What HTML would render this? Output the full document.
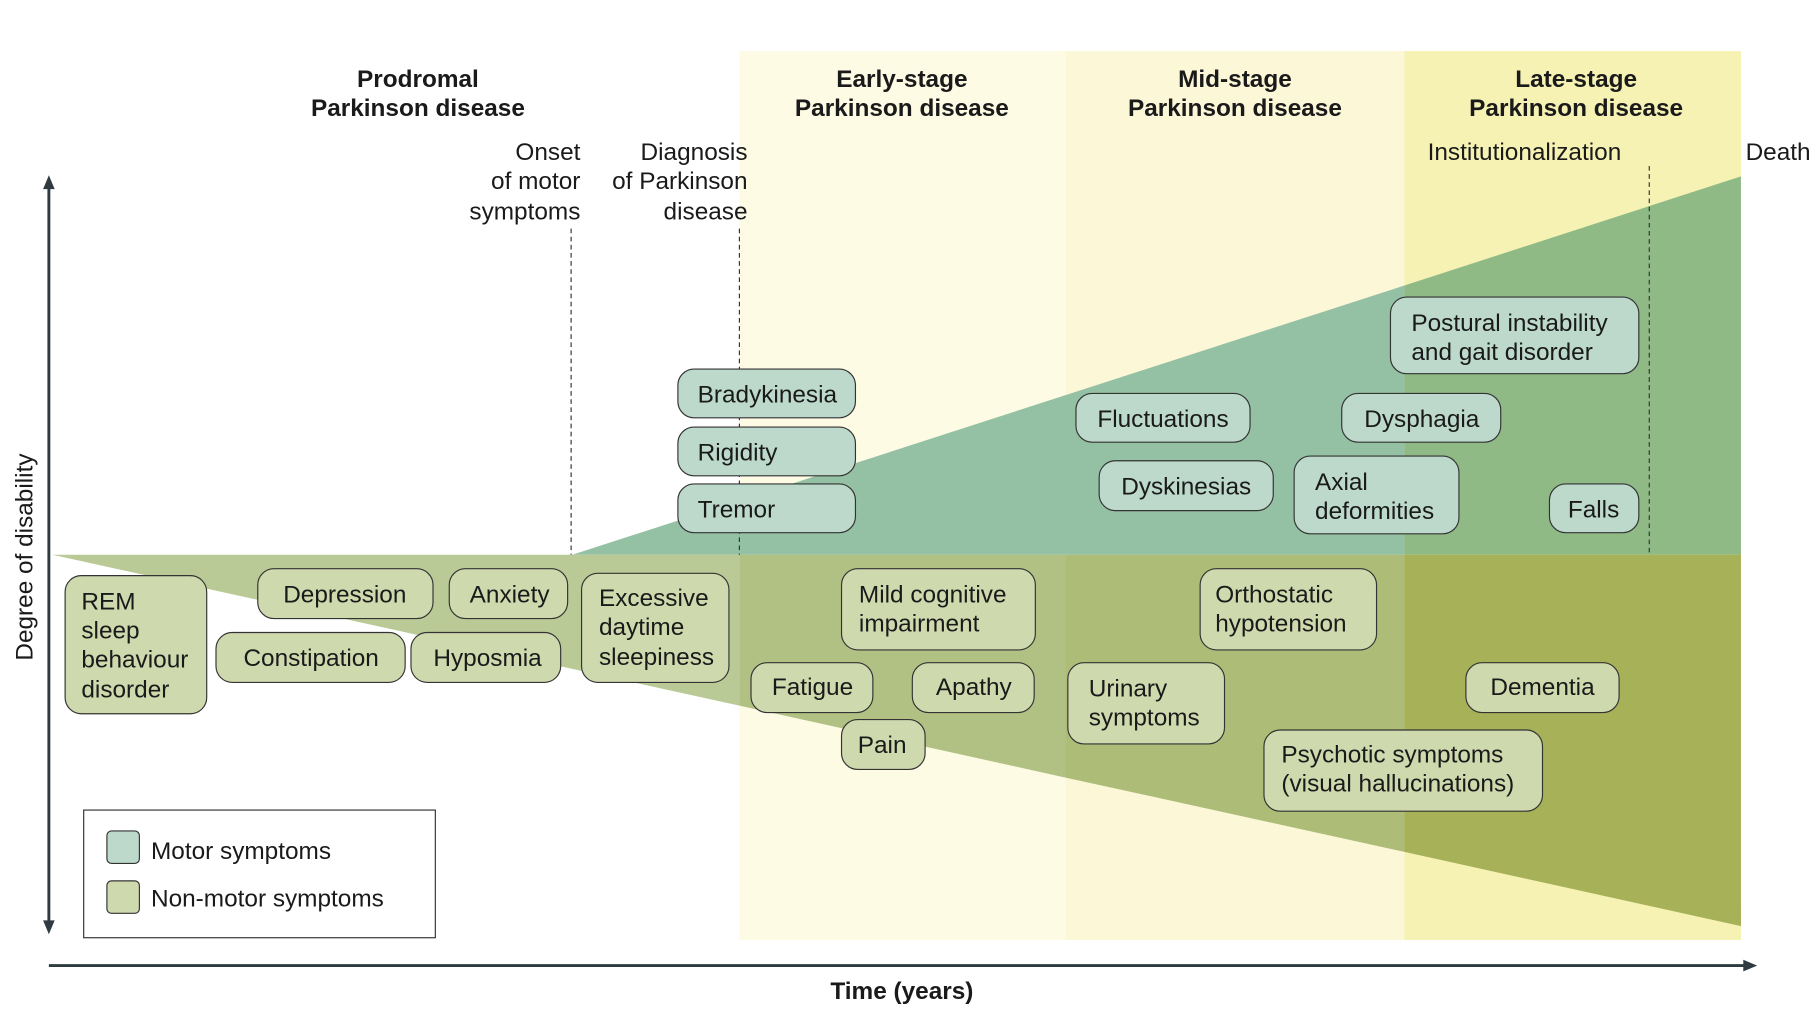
<!DOCTYPE html>
<html><head><meta charset="utf-8"><style>
html,body{margin:0;padding:0;background:#fff}
svg{display:block}
text{font-family:"Liberation Sans",sans-serif;fill:#1a1a1a}
.b{font-weight:bold}
</style></head><body>
<svg width="1820" height="1012" viewBox="0 0 1568 872" xmlns="http://www.w3.org/2000/svg">
<rect width="1568" height="872" fill="#fff"/>
<rect x="637" y="44" width="281" height="766" fill="#fdfbe4"/>
<rect x="918" y="44" width="292" height="766" fill="#fbf7d7"/>
<rect x="1210" y="44" width="290" height="766" fill="#f5f2b4"/>
<!-- motor -->
<polygon points="493,478 1210,246 1210,478" fill="#94c0a3"/>
<polygon points="1210,246 1500,152 1500,478 1210,478" fill="#8fba86"/>
<!-- nonmotor -->
<polygon points="45,478 637,478 637,608 " fill="#b9ca96"/>
<polygon points="637,478 918,478 918,670 637,608" fill="#b1c184"/>
<polygon points="918,478 1210,478 1210,734 918,670" fill="#adbd78"/>
<polygon points="1210,478 1500,478 1500,798 1210,734" fill="#a6b158"/>
<!-- dashed -->
<g stroke="#333" stroke-width="1" stroke-dasharray="4,3">
<line x1="492" y1="197" x2="492" y2="478"/>
<line x1="637" y1="197" x2="637" y2="478"/>
<line x1="1421" y1="143" x2="1421" y2="478"/>
</g>
<!-- axes -->
<g stroke="#2f3b40" stroke-width="2.5" fill="#2f3b40">
<line x1="42" y1="160" x2="42" y2="796"/>
<polygon points="42,151 37,163 47,163" stroke="none"/>
<polygon points="42,805 37,793 47,793" stroke="none"/>
<line x1="42" y1="832" x2="1505" y2="832"/>
<polygon points="1514,832 1502,827 1502,837" stroke="none"/>
</g>
<text x="28" y="480" font-size="21" text-anchor="middle" transform="rotate(-90 28 480)">Degree of disability</text>
<text x="777" y="861" font-size="21" class="b" text-anchor="middle">Time (years)</text>
<!-- headers -->
<g font-size="21" class="b" text-anchor="middle">
<text x="360" y="75" class="b">Prodromal</text><text x="360" y="100" class="b">Parkinson disease</text>
<text x="777" y="75" class="b">Early-stage</text><text x="777" y="100" class="b">Parkinson disease</text>
<text x="1064" y="75" class="b">Mid-stage</text><text x="1064" y="100" class="b">Parkinson disease</text>
<text x="1358" y="75" class="b">Late-stage</text><text x="1358" y="100" class="b">Parkinson disease</text>
</g>
<g font-size="21" text-anchor="end">
<text x="500" y="138">Onset</text><text x="500" y="163">of motor</text><text x="500" y="189">symptoms</text>
<text x="644" y="138">Diagnosis</text><text x="644" y="163">of Parkinson</text><text x="644" y="189">disease</text>
</g>
<text x="1230" y="138" font-size="21">Institutionalization</text>
<text x="1504" y="138" font-size="21">Death</text>
<!-- motor boxes -->
<g fill="#bcd9cc" stroke="#333" stroke-width="1">
<rect x="584" y="318" width="153" height="42" rx="14"/>
<rect x="584" y="368" width="153" height="42" rx="14"/>
<rect x="584" y="417" width="153" height="42" rx="14"/>
<rect x="927" y="339" width="150" height="42" rx="14"/>
<rect x="947" y="397" width="150" height="43" rx="14"/>
<rect x="1198" y="256" width="214" height="66" rx="14"/>
<rect x="1156" y="339" width="137" height="42" rx="14"/>
<rect x="1115" y="393" width="142" height="67" rx="14"/>
<rect x="1335" y="417" width="77" height="42" rx="14"/>
</g>
<g fill="#cfd9ae" stroke="#333" stroke-width="1">
<rect x="56" y="496" width="122" height="119" rx="14"/>
<rect x="222" y="490" width="151" height="43" rx="14"/>
<rect x="387" y="490" width="102" height="43" rx="14"/>
<rect x="186" y="545" width="163" height="43" rx="14"/>
<rect x="354" y="545" width="129" height="43" rx="14"/>
<rect x="501" y="494" width="127" height="94" rx="14"/>
<rect x="725" y="490" width="167" height="70" rx="14"/>
<rect x="647" y="571" width="105" height="43" rx="14"/>
<rect x="786" y="571" width="105" height="43" rx="14"/>
<rect x="725" y="620" width="72" height="43" rx="14"/>
<rect x="1034" y="490" width="152" height="70" rx="14"/>
<rect x="920" y="571" width="135" height="70" rx="14"/>
<rect x="1263" y="571" width="132" height="43" rx="14"/>
<rect x="1089" y="629" width="240" height="70" rx="14"/>
</g>
<g font-size="21">
<text x="601" y="347">Bradykinesia</text>
<text x="601" y="397">Rigidity</text>
<text x="601" y="446">Tremor</text>
<text x="1002" y="368" text-anchor="middle">Fluctuations</text>
<text x="1022" y="426" text-anchor="middle">Dyskinesias</text>
<text x="1216" y="285">Postural instability</text><text x="1216" y="310">and gait disorder</text>
<text x="1225" y="368" text-anchor="middle">Dysphagia</text>
<text x="1133" y="422">Axial</text><text x="1133" y="447">deformities</text>
<text x="1373" y="446" text-anchor="middle">Falls</text>
<text x="70" y="525">REM</text><text x="70" y="550">sleep</text><text x="70" y="575">behaviour</text><text x="70" y="601">disorder</text>
<text x="297" y="519" text-anchor="middle">Depression</text>
<text x="439" y="519" text-anchor="middle">Anxiety</text>
<text x="268" y="574" text-anchor="middle">Constipation</text>
<text x="420" y="574" text-anchor="middle">Hyposmia</text>
<text x="516" y="522">Excessive</text><text x="516" y="547">daytime</text><text x="516" y="573">sleepiness</text>
<text x="740" y="519">Mild cognitive</text><text x="740" y="544">impairment</text>
<text x="700" y="599" text-anchor="middle">Fatigue</text>
<text x="839" y="599" text-anchor="middle">Apathy</text>
<text x="760" y="649" text-anchor="middle">Pain</text>
<text x="1047" y="519">Orthostatic</text><text x="1047" y="544">hypotension</text>
<text x="938" y="600">Urinary</text><text x="938" y="625">symptoms</text>
<text x="1329" y="599" text-anchor="middle">Dementia</text>
<text x="1104" y="657">Psychotic symptoms</text><text x="1104" y="682">(visual hallucinations)</text>
</g>
<!-- legend -->
<rect x="72" y="698" width="303" height="110" fill="#fff" stroke="#333" stroke-width="1"/>
<rect x="92" y="716" width="28" height="28" rx="4" fill="#bcd9cc" stroke="#333"/>
<rect x="92" y="759" width="28" height="28" rx="4" fill="#cfd9ae" stroke="#333"/>
<text x="130" y="740" font-size="21">Motor symptoms</text>
<text x="130" y="781" font-size="21">Non-motor symptoms</text>
</svg>
</body></html>
